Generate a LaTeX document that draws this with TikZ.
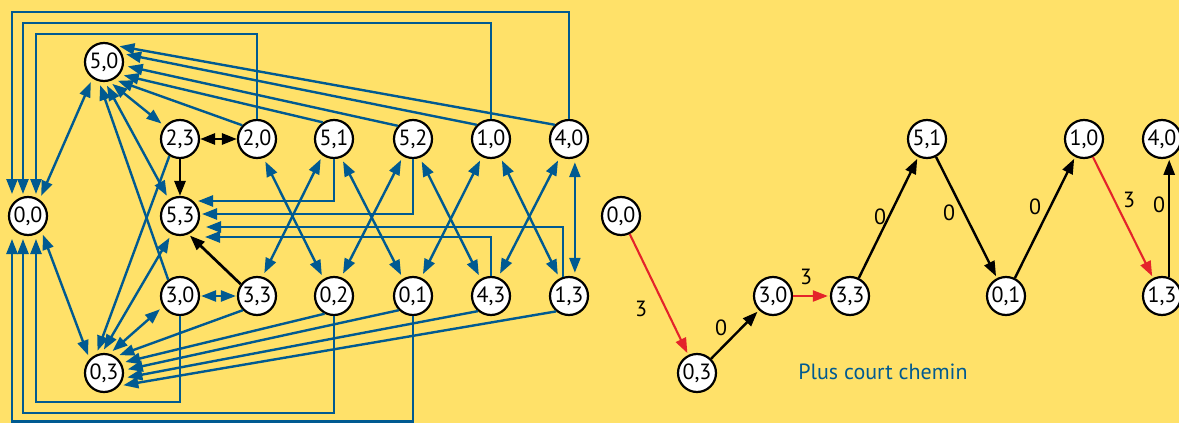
\documentclass[tikz,border=0pt]{standalone}
\usepackage{fontspec}
\setmainfont{PT Sans}
\usetikzlibrary{arrows.meta}
\definecolor{bgyellow}{RGB}{255,225,105}
\definecolor{graphblue}{RGB}{0,90,145}
\definecolor{pathred}{RGB}{228,35,42}
\begin{document}
\begin{tikzpicture}[x=1pt,y=1pt,
  >={Triangle[length=15pt,width=11pt]},
  state/.style={circle, draw=black, fill=white, line width=2.2pt,
    minimum size=38pt, inner sep=0pt, font=\fontsize{22}{22}\selectfont},
  move/.style={draw=graphblue, line width=2.4pt, ->, shorten >=4pt},
  both/.style={draw=graphblue, line width=2.4pt, <->, shorten >=4pt, shorten <=4pt},
  routed/.style={draw=graphblue, line width=2.4pt, ->},
  blk/.style={draw=black, line width=2.7pt},
  pathblack/.style={draw=black, line width=2.4pt, ->, shorten >=2pt},
  pathred/.style={draw=pathred, line width=2.1pt, ->, shorten >=2pt},
  weight/.style={font=\fontsize{22}{22}\selectfont, inner sep=0pt},
]
\useasboundingbox (0,0) rectangle (1179,-423);
\fill[bgyellow] (0,0) rectangle (1179,-423);
\clip (0,0) rectangle (1179,-423);

% ---------- state graph of the two jugs ----------
\node[state] (a50) at (104,-62) {5,0};
\node[state] (a23) at (180,-139) {2,3};
\node[state] (a20) at (257,-139) {2,0};
\node[state] (a51) at (334,-139) {5,1};
\node[state] (a52) at (413,-139) {5,2};
\node[state] (a10) at (491,-139) {1,0};
\node[state] (a40) at (569,-139) {4,0};
\node[state] (a00) at (28,-216) {0,0};
\node[state] (a53) at (180,-216) {5,3};
\node[state] (a30) at (180,-296) {3,0};
\node[state] (a33) at (257,-296) {3,3};
\node[state] (a02) at (334,-296) {0,2};
\node[state] (a01) at (413,-296) {0,1};
\node[state] (a43) at (491,-296) {4,3};
\node[state] (a13) at (569,-296) {1,3};
\node[state] (a03) at (104,-373) {0,3};

% lanes of the routed connectors towards 0,0
\coordinate (up1) at (36,-34);
\coordinate (up2) at (23,-23);
\coordinate (up3) at (12,-12);
\coordinate (dn1) at (36,-402);
\coordinate (dn2) at (23,-413);
\coordinate (dn3) at (12,-421.5);

\draw[routed] (a20.north) |- (up1) -- ([xshift=8pt,yshift=22pt]a00.center);
\draw[routed] (a10.north) |- (up2) -- ([xshift=-5pt,yshift=22pt]a00.center);
\draw[routed] (a40.north) |- (up3) -- ([xshift=-16pt,yshift=22pt]a00.center);
\draw[routed] (a30.south) |- (dn1) -- ([xshift=8pt,yshift=-23pt]a00.center);
\draw[routed] (a02.south) |- (dn2) -- ([xshift=-5pt,yshift=-23pt]a00.center);
\draw[routed] (a01.south) |- (dn3) -- ([xshift=-16pt,yshift=-23pt]a00.center);

% routed connectors towards 5,3
\draw[routed] (a51.south) |- ([xshift=18pt,yshift=15pt]a53.center);
\draw[routed] (a52.south) |- ([xshift=22pt,yshift=2pt]a53.center);
\draw[routed] (a13.107) |- ([xshift=26pt,yshift=-11pt]a53.center);
\draw[routed] (a43.north) |- ([xshift=25pt,yshift=-21pt]a53.center);

% towards 5,0
\draw[move] (a40.135) -- (a50.55);
\draw[move] (a10.135) -- (a50.25);
\draw[move] (a52.139) -- (a50.-10);
\draw[move] (a51.124) -- (a50.-38);
\draw[move] (a20.137) -- (a50.-60);
\draw[both] (a23.140) -- (a50.-75);
\draw[both] (a53.124) -- (a50.273);
\draw[move] (a30.126) -- (a50.255);
\draw[both] (a00.55) -- (a50.235);

% towards 0,3
\draw[both] (a00.-48) -- (a03.136);
\draw[move] (a23.238) -- (a03.113);
\draw[both] (a53.245) -- (a03.96);
\draw[both] (a30.212) -- (a03.74);
\draw[move] (a33.225) -- (a03.55);
\draw[move] (a02.242) -- (a03.30);
\draw[move] (a01.225) -- (a03.8);
\draw[move] (a43.229) -- (a03.-15);
\draw[move] (a13.230) -- (a03.-40);

% crossings between the two rows
\draw[both] (a20.-71) -- (a02.121);
\draw[both] (a51.235) -- (a33.74);
\draw[both] (a51.-69) -- (a01.120);
\draw[both] (a52.240) -- (a02.69);
\draw[both] (a52.-70) -- (a43.121);
\draw[both] (a10.243) -- (a01.66);
\draw[both] (a10.-63) -- (a13.118);
\draw[both] (a40.243) -- (a43.69);
\draw[both] (a40.-73) -- (a13.73);
\draw[both, shorten <=1pt, shorten >=1pt] (a30.east) -- (a33.west);

% black transitions
\draw[blk, <->] (a23.east) -- (a20.west);
\draw[blk, ->] (a23.south) -- (a53.north);
\draw[blk, ->, shorten >=2pt] (a33.144) -- (a53.-65);

% ---------- shortest path ----------
\node[state] (b00) at (621,-216) {0,0};
\node[state] (b03) at (697,-373) {0,3};
\node[state] (b30) at (773,-296) {3,0};
\node[state] (b33) at (850,-296) {3,3};
\node[state] (b51) at (927,-139) {5,1};
\node[state] (b01) at (1006,-296) {0,1};
\node[state] (b10) at (1084,-139) {1,0};
\node[state] (b40) at (1162,-139) {4,0};
\node[state] (b13) at (1162,-296) {1,3};

\draw[pathred] (b00) -- (b03);
\draw[pathblack] (b03) -- (b30);
\draw[pathred] (b30) -- (b33);
\draw[pathblack] (b33) -- (b51);
\draw[pathblack] (b51) -- (b01);
\draw[pathblack] (b01) -- (b10);
\draw[pathred] (b10) -- (b13);
\draw[pathblack] (b13.69) -- (b40.-69);

\node[weight] (w1) at (641,-309) {3};
\node[weight] (w2) at (721,-328) {0};
\node[weight] (w3) at (806,-277) {3};
\node[weight] (w4) at (880,-217) {0};
\node[weight] (w5) at (949,-213) {0};
\node[weight] (w6) at (1035,-207) {0};
\node[weight] (w7) at (1129,-200) {3};
\node[weight] (w8) at (1159,-205) {0};

\node[text=graphblue, font=\fontsize{22}{22}\selectfont, inner sep=0pt] (caption) at (883,-372) {Plus court chemin};
\end{tikzpicture}
\end{document}
